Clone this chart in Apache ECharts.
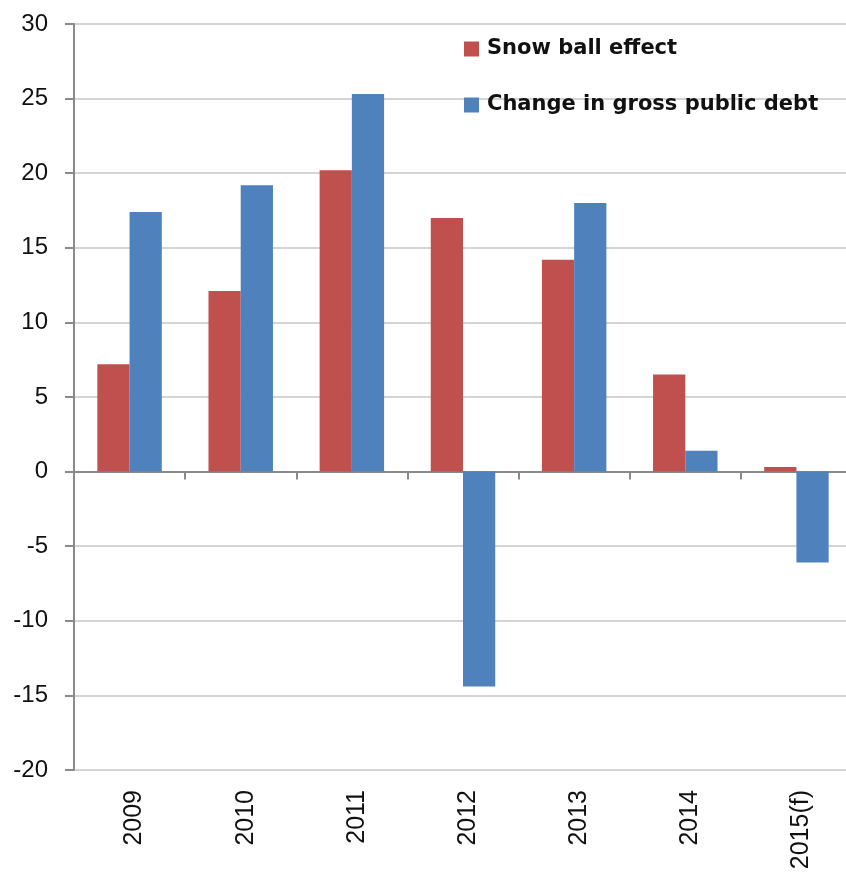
<!DOCTYPE html>
<html>
<head>
<meta charset="utf-8">
<script src="https://cdn.jsdelivr.net/npm/echarts@6/dist/echarts.min.js"></script>
<style>
  html, body { margin: 0; padding: 0; background: #fff; overflow: hidden; }
  /* plot area runs a few pixels past the right edge of the window */
  #chart { width: 852px; height: 873px; }
</style>
</head>
<body>
<div id="chart"></div>
<script>
// Categories and series values
const years = ['2009', '2010', '2011', '2012', '2013', '2014', '2015(f)'];
const snowBallEffect = [7.2, 12.1, 20.2, 17.0, 14.2, 6.5, 0.3];
const changeInGrossDebt = [17.4, 19.2, 25.3, -14.4, 18.0, 1.4, -6.1];
const seriesNames = ['Snow ball effect', 'Change in gross public debt'];

const chart = echarts.init(document.getElementById('chart'), null, { renderer: 'canvas' });

const axisGray = '#8a8a8a';
const gridGray = '#d4d4d4';
const axisFont = 'Liberation Sans';
const legendFont = 'DejaVu Sans';

chart.setOption({
  animation: false,
  backgroundColor: '#ffffff',
  grid: { left: 74, right: 0, top: 24, bottom: 103, containLabel: false },
  legend: {
    orient: 'vertical',
    left: 464,
    top: 37,
    padding: 0,
    itemWidth: 15,
    itemHeight: 15,
    itemGap: 32,
    icon: 'rect',
    textStyle: {
      fontFamily: legendFont,
      fontWeight: 'bold',
      fontSize: 21,
      lineHeight: 24,
      padding: [0, 0, 0, 3],
      color: '#111'
    },
    data: seriesNames
  },
  xAxis: [
    {
      // Axis drawn through zero with boundary ticks
      type: 'category',
      data: years,
      position: 'bottom',
      axisLine: { onZero: true, lineStyle: { color: axisGray, width: 2 } },
      axisTick: { show: true, length: 8, lineStyle: { color: axisGray, width: 2 } },
      axisLabel: { show: false },
      splitLine: { show: false }
    },
    {
      // Year labels along the bottom edge
      type: 'category',
      data: years,
      position: 'bottom',
      axisLine: { show: false, onZero: false },
      axisTick: { show: false },
      axisLabel: {
        rotate: 90,
        margin: 20,
        verticalAlign: 'top',
        lineHeight: 10,
        fontFamily: axisFont,
        fontSize: 25,
        color: '#111'
      },
      splitLine: { show: false }
    }
  ],
  yAxis: {
    type: 'value',
    min: -20,
    max: 30,
    interval: 5,
    axisLine: { show: true, lineStyle: { color: axisGray, width: 2 } },
    axisTick: { show: true, length: 9, lineStyle: { color: axisGray, width: 2 } },
    axisLabel: {
      margin: 26,
      fontFamily: axisFont,
      fontSize: 24,
      color: '#111'
    },
    splitLine: { show: true, lineStyle: { color: gridGray, width: 2 } }
  },
  series: [
    {
      name: seriesNames[0],
      type: 'bar',
      xAxisIndex: 0,
      data: snowBallEffect,
      itemStyle: { color: '#C0504D' },
      barGap: '0%',
      barCategoryGap: '42%'
    },
    {
      name: seriesNames[1],
      type: 'bar',
      xAxisIndex: 0,
      data: changeInGrossDebt,
      itemStyle: { color: '#4F81BD' },
      barGap: '0%',
      barCategoryGap: '42%'
    }
  ]
});
</script>
</body>
</html>
